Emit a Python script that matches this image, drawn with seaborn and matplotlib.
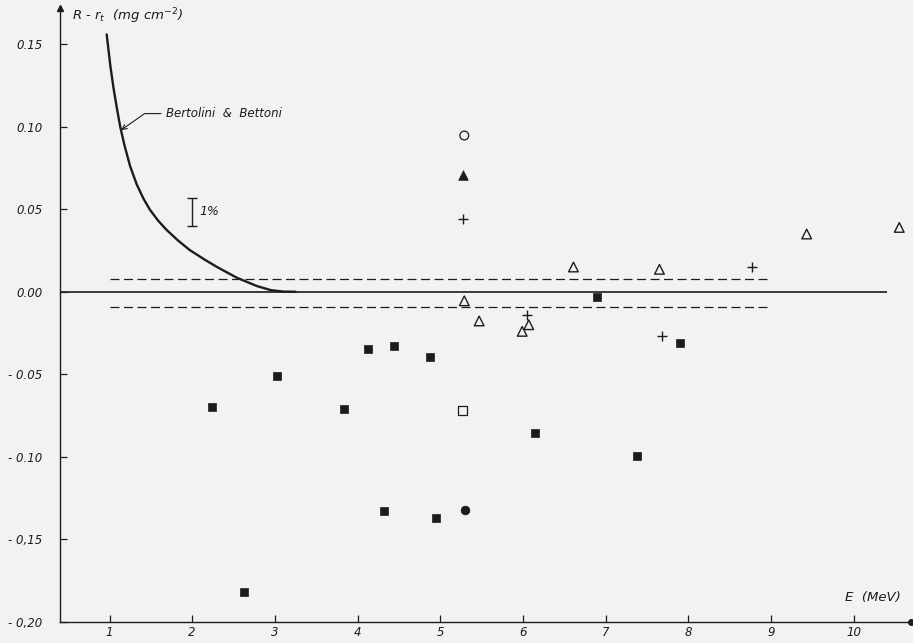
import matplotlib
matplotlib.use("Agg")
import pandas as pd
import matplotlib.pyplot as plt
import seaborn as sns

# -----------------------------------
# Data
# -----------------------------------
curve_e = [0.966, 0.98, 1.01, 1.05, 1.09, 1.13, 1.18, 1.25, 1.33, 1.41, 1.49,
           1.59, 1.69, 1.83, 1.97, 2.15, 2.30, 2.54, 2.78, 2.95, 3.10, 3.25]
curve_d = [0.156, 0.150, 0.137, 0.123, 0.111, 0.100, 0.089, 0.076, 0.065,
           0.0565, 0.0496, 0.043, 0.0375, 0.031, 0.0253, 0.0195, 0.0150,
           0.0085, 0.0035, 0.0010, 0.0001, 0.0]

sq_filled_e = [2.24, 2.625, 3.03, 3.84, 4.13, 4.32, 4.44, 4.88, 4.95, 6.14, 6.90, 7.38, 7.90]
sq_filled_d = [-0.070, -0.182, -0.051, -0.071, -0.035, -0.133, -0.033, -0.0395, -0.137, -0.0855, -0.003, -0.0995, -0.031]

sq_open_e = [5.27]
sq_open_d = [-0.072]

tri_open_e = [5.29, 5.47, 5.99, 6.07, 6.61, 7.65, 9.43, 10.55]
tri_open_d = [-0.0055, -0.0177, -0.024, -0.020, 0.015, 0.0136, 0.035, 0.039]

tri_filled_e = [5.28]
tri_filled_d = [0.0705]

plus_e = [5.27, 6.05, 7.68, 8.77]
plus_d = [0.044, -0.014, -0.027, 0.015]

circ_open_e = [5.29]
circ_open_d = [0.0947]

circ_filled_e = [5.30]
circ_filled_d = [-0.132]

band_hi = 0.008
band_lo = -0.009
band_start, band_end = 1.0, 8.95
zero_end = 10.4

one_pct_e = 2.0
one_pct_lo, one_pct_hi = 0.040, 0.057

x_ticks = [1, 2, 3, 4, 5, 6, 7, 8, 9, 10]
y_ticks = [-0.20, -0.15, -0.10, -0.05, 0.00, 0.05, 0.10, 0.15]
y_tick_labels = ["- 0,20", "- 0,15", "- 0.10", "- 0.05", "0.00", "0.05", "0.10", "0.15"]

INK = "#1c1c1c"
PAPER = "#f2f2f2"

sns.set_style("ticks")
plt.rcParams["font.family"] = ["DejaVu Sans"]
plt.rcParams["mathtext.default"] = "it"

fig = plt.figure(figsize=(9.13, 6.43), dpi=100, facecolor=PAPER)
ax = fig.add_axes([60.3 / 913, 21.3 / 643, (911 - 60.3) / 913, (621.7 - 8) / 643])
ax.set_facecolor(PAPER)

x_lo = (60.3 - 26.8) / 82.7
x_hi = (911 - 26.8) / 82.7
y_lo = -0.20
y_hi = (291.8 - 8) / 1650
ax.set_xlim(x_lo, x_hi)
ax.set_ylim(y_lo, y_hi)

# reference lines
ax.hlines(0, x_lo, zero_end, color=INK, lw=1.2, zorder=2)
ax.hlines([band_hi, band_lo], band_start, band_end, color=INK, lw=0.9,
          linestyles=[(0, (7.2, 3.6))], zorder=2)

# Bertolini & Bettoni curve
curve = pd.DataFrame({"E": curve_e, "d": curve_d})
sns.lineplot(data=curve, x="E", y="d", ax=ax, color=INK, lw=1.7,
             sort=False, estimator=None)

# markers
sns.scatterplot(x=sq_filled_e, y=sq_filled_d, ax=ax, marker="s", s=38,
                color=INK, edgecolor=INK, linewidth=0.5, zorder=3)
sns.scatterplot(x=sq_open_e, y=sq_open_d, ax=ax, marker="s", s=36,
                facecolor="none", edgecolor=INK, linewidth=0.9, zorder=3)
sns.scatterplot(x=tri_open_e, y=tri_open_d, ax=ax, marker="^", s=48,
                facecolor="none", edgecolor=INK, linewidth=1.0, zorder=3)
sns.scatterplot(x=tri_filled_e, y=tri_filled_d, ax=ax, marker="^", s=48,
                color=INK, edgecolor=INK, linewidth=0.5, zorder=3)
sns.scatterplot(x=plus_e, y=plus_d, ax=ax, marker="+", s=60,
                color=INK, linewidth=1.0, zorder=3)
sns.scatterplot(x=circ_open_e, y=circ_open_d, ax=ax, marker="o", s=40,
                facecolor="none", edgecolor=INK, linewidth=0.9, zorder=3)
sns.scatterplot(x=circ_filled_e, y=circ_filled_d, ax=ax, marker="o", s=40,
                color=INK, edgecolor=INK, linewidth=0.5, zorder=3)

# 1% scale bar
mid = (one_pct_lo + one_pct_hi) / 2
ax.errorbar(one_pct_e, mid, yerr=(one_pct_hi - one_pct_lo) / 2, fmt="none",
            ecolor=INK, elinewidth=1.0, capsize=3.5, capthick=1.0)
ax.text(one_pct_e + 0.09, mid, "1%", style="italic", fontsize=9,
        color=INK, va="center", ha="left")

# annotation
ax.annotate("Bertolini  &  Bettoni", xy=(1.14, 0.098), xytext=(1.68, 0.108),
            style="italic", fontsize=8.5, color=INK, va="center", ha="left",
            arrowprops=dict(arrowstyle="->", color=INK, lw=0.8,
                            shrinkA=1, shrinkB=0,
                            connectionstyle="angle,angleA=0,angleB=35,rad=0"))

# axes styling
sns.despine(ax=ax)
for side in ["left", "bottom"]:
    ax.spines[side].set_color(INK)
    ax.spines[side].set_linewidth(1.0)
ax.plot(0, 1, "^", color=INK, ms=5, transform=ax.transAxes, clip_on=False)
ax.plot(1, 0, "o", color=INK, ms=4, transform=ax.transAxes, clip_on=False)

ax.set_xticks(x_ticks)
ax.set_xticklabels([str(t) for t in x_ticks])
ax.set_yticks(y_ticks)
ax.set_yticklabels(y_tick_labels)
ax.tick_params(axis="both", direction="in", length=5, width=0.9,
               colors=INK, labelsize=8.5)
ax.tick_params(axis="x", pad=3)
ax.tick_params(axis="y", pad=13)
for lab in ax.get_xticklabels() + ax.get_yticklabels():
    lab.set_fontstyle("italic")
ax.set_xlabel("")
ax.set_ylabel("")

fig.text(72 / 913, 1 - 16 / 643, "R - r$_t$  (mg cm$^{-2}$)", style="italic",
         fontsize=9.5, color=INK, va="center", ha="left")
fig.text(845 / 913, 1 - 597 / 643, "E  (MeV)", style="italic",
         fontsize=9.5, color=INK, va="center", ha="left")

fig.savefig("out.png", dpi=100, facecolor=PAPER)
